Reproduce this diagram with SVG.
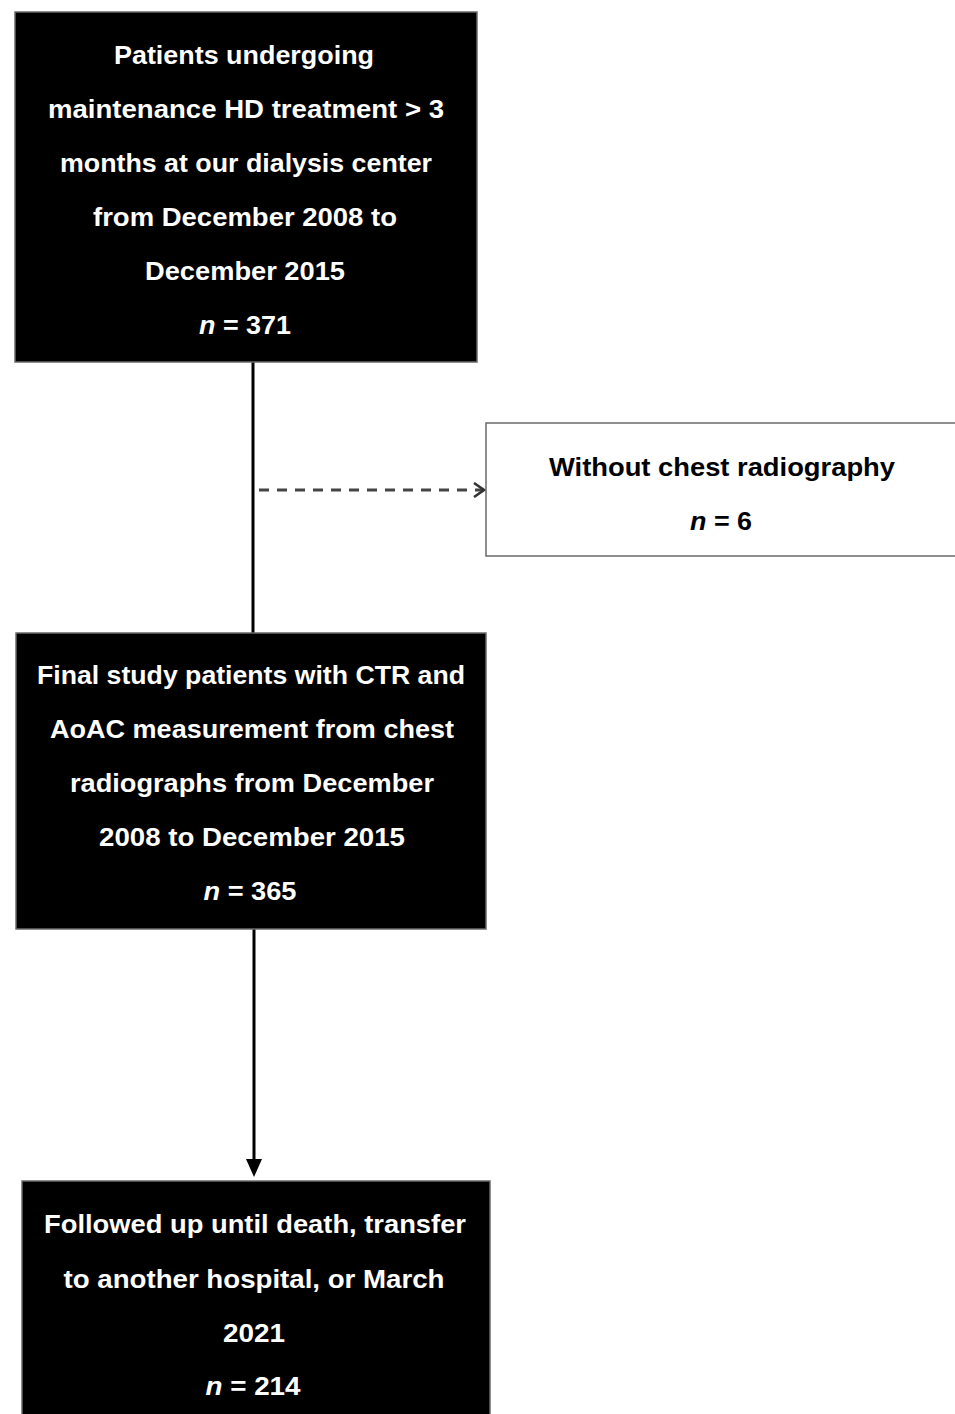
<svg xmlns="http://www.w3.org/2000/svg" width="955" height="1414" viewBox="0 0 955 1414">
<style>
.dark{fill:#000;stroke:#6a6a6a;stroke-width:1.5}
.light{fill:#fff;stroke:#6a6a6a;stroke-width:1.5}
.tw{fill:#fff;font-family:"Liberation Sans",Arial,sans-serif;font-weight:bold;font-size:25px;text-anchor:middle}
.tb{fill:#000;font-family:"Liberation Sans",Arial,sans-serif;font-weight:bold;font-size:25px;text-anchor:middle}
.it{font-style:italic}
</style>
<defs>
<marker id="solidArrow" markerWidth="16" markerHeight="18" refX="8" refY="17" orient="auto-start-reverse" markerUnits="userSpaceOnUse" viewBox="0 0 16 18">
<path d="M0,0 L16,0 L8,18 Z" fill="#000" transform="rotate(-90 8 9)"/>
</marker>
<marker id="openArrow" markerWidth="14" markerHeight="16" refX="12" refY="8" orient="auto" markerUnits="userSpaceOnUse" viewBox="0 0 14 16">
<path d="M2,1 L12,8 L2,15" fill="none" stroke="#333" stroke-width="2.5"/>
</marker>
</defs>
<rect width="955" height="1414" fill="#fff"/>
<g id="connectors">
<line x1="253" y1="362" x2="253" y2="633" stroke="#000" stroke-width="3"/>
<line x1="259" y1="490" x2="484" y2="490" stroke="#444" stroke-width="3" stroke-dasharray="10,8" marker-end="url(#openArrow)"/>
<line x1="254" y1="929" x2="254" y2="1162" stroke="#000" stroke-width="3"/>
<path d="M246,1159 L262,1159 L254,1177 Z" fill="#000"/>
</g>
<g id="node-patients">
<rect class="dark" x="15" y="12" width="462" height="350"/>
<text class="tw" x="244" y="64" textLength="260" lengthAdjust="spacingAndGlyphs">Patients undergoing</text>
<text class="tw" x="246" y="118" textLength="396" lengthAdjust="spacingAndGlyphs">maintenance HD treatment &gt; 3</text>
<text class="tw" x="246" y="172" textLength="372" lengthAdjust="spacingAndGlyphs">months at our dialysis center</text>
<text class="tw" x="245" y="226" textLength="304" lengthAdjust="spacingAndGlyphs">from December 2008 to</text>
<text class="tw" x="245" y="280" textLength="200" lengthAdjust="spacingAndGlyphs">December 2015</text>
<text class="tw" x="245" y="334" textLength="92" lengthAdjust="spacingAndGlyphs"><tspan class="it">n</tspan> = 371</text>
</g>
<g id="node-excluded">
<rect class="light" x="486" y="423" width="475" height="133"/>
<text class="tb" x="722" y="476" textLength="346" lengthAdjust="spacingAndGlyphs">Without chest radiography</text>
<text class="tb" x="721" y="530" textLength="62" lengthAdjust="spacingAndGlyphs"><tspan class="it">n</tspan> = 6</text>
</g>
<g id="node-final">
<rect class="dark" x="16" y="633" width="470" height="296"/>
<text class="tw" x="251" y="684" textLength="428" lengthAdjust="spacingAndGlyphs">Final study patients with CTR and</text>
<text class="tw" x="252" y="738" textLength="404" lengthAdjust="spacingAndGlyphs">AoAC measurement from chest</text>
<text class="tw" x="252" y="792" textLength="364" lengthAdjust="spacingAndGlyphs">radiographs from December</text>
<text class="tw" x="252" y="846" textLength="306" lengthAdjust="spacingAndGlyphs">2008 to December 2015</text>
<text class="tw" x="250" y="900" textLength="93" lengthAdjust="spacingAndGlyphs"><tspan class="it">n</tspan> = 365</text>
</g>
<g id="node-followup">
<rect class="dark" x="22" y="1181" width="468" height="240"/>
<text class="tw" x="255" y="1233" textLength="422" lengthAdjust="spacingAndGlyphs">Followed up until death, transfer</text>
<text class="tw" x="254" y="1288" textLength="381" lengthAdjust="spacingAndGlyphs">to another hospital, or March</text>
<text class="tw" x="254" y="1342" textLength="62" lengthAdjust="spacingAndGlyphs">2021</text>
<text class="tw" x="253" y="1395" textLength="95" lengthAdjust="spacingAndGlyphs"><tspan class="it">n</tspan> = 214</text>
</g>
</svg>
